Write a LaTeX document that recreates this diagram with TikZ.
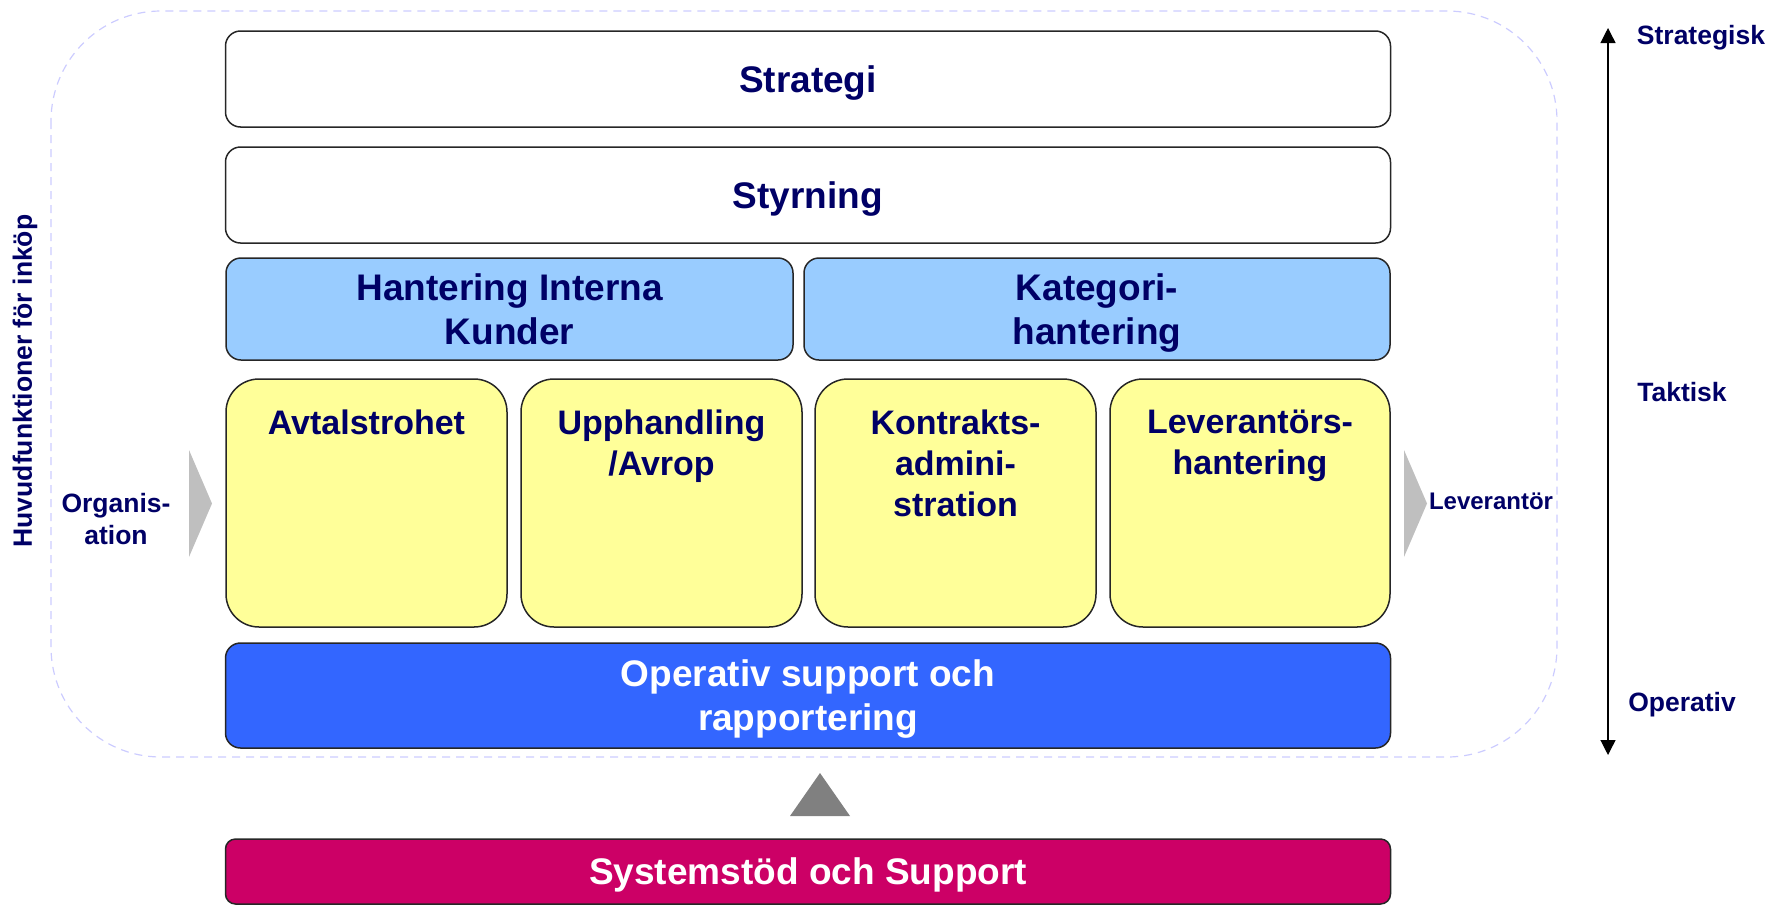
\documentclass[tikz,border=0pt]{standalone}
\usepackage{fontspec}
\setmainfont{Liberation Sans}
\usetikzlibrary{arrows.meta}

\definecolor{navytext}{HTML}{000066}
\definecolor{lightblue}{HTML}{99CCFF}
\definecolor{paleyellow}{HTML}{FFFF99}
\definecolor{opblue}{HTML}{3366FF}
\definecolor{sysred}{HTML}{CC0066}
\definecolor{lavender}{HTML}{CCCCFF}

\newcommand\layerfont{\bfseries\fontsize{37}{44}\selectfont}
\newcommand\cellfont{\bfseries\fontsize{34}{41}\selectfont}
\newcommand\sidefont{\bfseries\fontsize{26.5}{31.5}\selectfont}

\begin{document}
\begin{tikzpicture}[x=1pt,y=-1pt,
    layer/.style={draw=black!85,line width=1.5pt,rounded corners=15pt,inner sep=0pt,
      minimum width=1165pt,minimum height=96pt,align=center,text=navytext,
      text depth=0pt,font=\layerfont},
    half/.style={layer,fill=lightblue,minimum height=102pt},
    cell/.style={draw=black!85,line width=1.5pt,rounded corners=33pt,fill=paleyellow,
      minimum width=281pt,minimum height=248pt},
    celltext/.style={anchor=north,inner sep=0pt,align=center,text=navytext,font=\cellfont},
    side/.style={inner sep=0pt,align=center,text=navytext,font=\sidefont},
    chevron/.style={fill=black!25},
    dashframe/.style={draw=lavender,line width=1.2pt,dash pattern=on 8pt off 6pt,rounded corners=110pt}
  ]
  \useasboundingbox (0,0) rectangle (1768,908);

  \draw[dashframe] (51,11) rectangle (1557,757);

  \node[layer] (strategi) at (808,79) {Strategi};
  \node[layer] (styrning) at (808,195) {Styrning};
  \node[half,minimum width=567pt] (interna) at (509.5,309) {Hantering Interna\\Kunder};
  \node[half,minimum width=586pt] (kategori) at (1097,309) {Kategori-\\hantering};

  \node[cell] (avtal) at (366.5,503) {};
  \node[cell] (upphandling) at (661.5,503) {};
  \node[cell] (kontrakt) at (955.5,503) {};
  \node[cell,minimum width=280pt] (leverantor) at (1250,503) {};
  \node[celltext] (avtaltext) at (366.5,410) {Avtalstrohet};
  \node[celltext] (upphtext) at (661.5,410) {Upphandling\\/Avrop};
  \node[celltext] (kontrtext) at (955.5,410) {Kontrakts-\\admini-\\stration};
  \node[celltext] (levtext) at (1250,410) {Leverantörs-\\hantering};

  \node[layer,fill=opblue,text=white,minimum height=105pt] (operativ) at (808,695.5) {Operativ support och\\rapportering};
  \node[layer,fill=sysred,text=white,rounded corners=10pt,minimum height=65pt] (system) at (808,871.5) {Systemstöd och Support};

  \fill[black!50] (790,816) -- (820,773) -- (850,816) -- cycle;
  \fill[chevron] (189,450) -- (212,503.5) -- (189,557) -- cycle;
  \fill[chevron] (1404,450) -- (1427,503.5) -- (1404,557) -- cycle;

  \node[side] (organisation) at (116,519) {Organis-\\ation};
  \node[side,font=\bfseries\fontsize{24}{29}\selectfont] (levside) at (1491,501.5) {Leverantör};
  \node[side,rotate=90] (huvud) at (25,381) {Huvudfunktioner för inköp};

  \coordinate (axtop) at (1608,28);
  \coordinate (axbot) at (1608,755);
  \draw[line width=1.2pt,{Triangle[length=15pt,width=15pt]}-{Triangle[length=15pt,width=15pt]}] (axbot) -- (axtop);
  \node[side] (strategisk) at (1701,37.5) {Strategisk};
  \node[side] (taktisk) at (1682,392) {Taktisk};
  \node[side] (operativside) at (1682,705) {Operativ};
\end{tikzpicture}
\end{document}
